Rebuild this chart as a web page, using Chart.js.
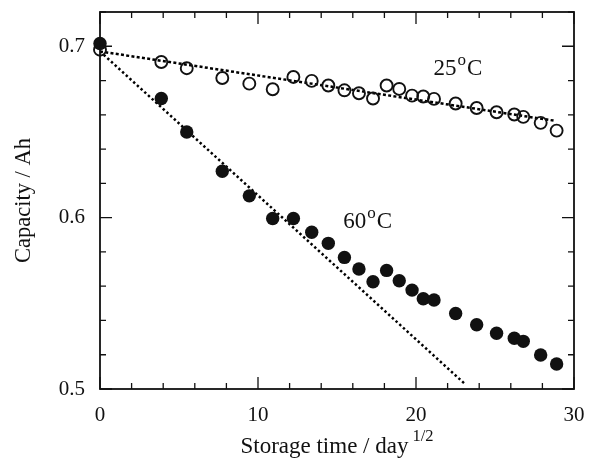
<!DOCTYPE html>
<html>
<head>
<meta charset="utf-8">
<script src="https://cdn.jsdelivr.net/npm/chart.js@4.4.1/dist/chart.umd.min.js"></script>
<style>
  html, body { margin: 0; padding: 0; background: #fff; }
</style>
</head>
<body>
<canvas id="grafico" width="597" height="460"></canvas>
<script>
// valores
const tempo = [0, 3.88, 5.49, 7.74, 9.45, 10.93, 12.24, 13.4, 14.45, 15.47, 16.39, 17.28,
    18.14, 18.94, 19.75, 20.46, 21.14, 22.51, 23.84, 25.1, 26.22, 26.79, 27.89, 28.9];
const cap25 = [0.698, 0.6908, 0.6872, 0.6815, 0.6782, 0.6749, 0.6821, 0.6798, 0.6771, 0.6743,
    0.6726, 0.6695, 0.6771, 0.6751, 0.6712, 0.6707, 0.6693, 0.6666, 0.664, 0.6615, 0.6602,
    0.6588, 0.6553, 0.6508];
const cap60 = [0.7016, 0.6695, 0.65, 0.6271, 0.6127, 0.5995, 0.5995, 0.5915, 0.585, 0.5768,
    0.57, 0.5626, 0.5692, 0.5632, 0.5577, 0.5527, 0.5519, 0.5441, 0.5375, 0.5325, 0.5296,
    0.5278, 0.5198, 0.5146];

// retas de ajuste (extremos)
const ajuste25X = [0, 28.8];
const ajuste25Y = [0.697, 0.6565];
const ajuste60X = [0, 23.15];
const ajuste60Y = [0.697, 0.5025];

const rotulos = [
    { texto: "25", sup: "o", fim: "C", x: 21.1, y: 0.6831 },
    { texto: "60", sup: "o", fim: "C", x: 15.4, y: 0.5939 }
];

const fonte = "'Liberation Serif', 'DejaVu Serif', serif";

function pares(xs, ys) {
    return xs.map((x, i) => ({ x: x, y: ys[i] }));
}

/* =========================
   MOLDURA, TICKS E TEXTOS
========================= */
const moldura = {
    id: "moldura",
    afterDatasetsDraw(chart) {
        const ctx = chart.ctx;
        const a = chart.chartArea;
        const sx = chart.scales.x;
        const sy = chart.scales.y;
        ctx.save();
        ctx.strokeStyle = "#111";
        ctx.lineWidth = 1.8;
        ctx.strokeRect(a.left, a.top, a.right - a.left, a.bottom - a.top);

        ctx.lineWidth = 1.3;
        ctx.beginPath();
        sx.ticks.forEach(t => {
            const px = sx.getPixelForValue(t.value);
            const len = Math.abs(t.value % 10) < 1e-6 ? 12 : 6;
            ctx.moveTo(px, a.bottom); ctx.lineTo(px, a.bottom - len);
            ctx.moveTo(px, a.top); ctx.lineTo(px, a.top + len);
        });
        sy.ticks.forEach(t => {
            const py = sy.getPixelForValue(t.value);
            const v = t.value * 10;
            const len = Math.abs(v - Math.round(v)) < 1e-6 ? 12 : 6;
            ctx.moveTo(a.left, py); ctx.lineTo(a.left + len, py);
            ctx.moveTo(a.right, py); ctx.lineTo(a.right - len, py);
        });
        ctx.stroke();

        // rótulos de temperatura
        ctx.fillStyle = "#111";
        ctx.textBaseline = "alphabetic";
        rotulos.forEach(r => {
            let px = sx.getPixelForValue(r.x);
            const py = sy.getPixelForValue(r.y);
            ctx.font = "23px " + fonte;
            ctx.fillText(r.texto, px, py);
            px += ctx.measureText(r.texto).width + 1;
            ctx.font = "17px " + fonte;
            ctx.fillText(r.sup, px, py - 10);
            px += ctx.measureText(r.sup).width + 1;
            ctx.font = "23px " + fonte;
            ctx.fillText(r.fim, px, py);
        });

        // título do eixo x com expoente
        const t1 = "Storage time / day";
        const t2 = "1/2";
        ctx.font = "23px " + fonte;
        const w1 = ctx.measureText(t1).width;
        ctx.font = "16.5px " + fonte;
        const w2 = ctx.measureText(t2).width;
        const cx = (a.left + a.right) / 2;
        const x0 = cx - (w1 + w2 + 4) / 2;
        const base = 453;
        ctx.font = "23px " + fonte;
        ctx.fillText(t1, x0, base);
        ctx.font = "16.5px " + fonte;
        ctx.fillText(t2, x0 + w1 + 4, base - 12);
        ctx.restore();
    }
};

const ctxGrafico = document.getElementById("grafico");

new Chart(ctxGrafico, {
    type: "scatter",
    data: {
        datasets: [
            {
                label: "60",
                data: pares(tempo, cap60),
                pointStyle: "circle",
                pointRadius: 6.7,
                pointBackgroundColor: "#111",
                pointBorderColor: "#111",
                pointBorderWidth: 0,
                clip: false,
                order: 1
            },
            {
                label: "25",
                data: pares(tempo, cap25),
                pointStyle: "circle",
                pointRadius: 6,
                pointBackgroundColor: "rgba(255,255,255,0)",
                pointBorderColor: "#111",
                pointBorderWidth: 1.9,
                clip: false,
                order: 2
            },
            {
                label: "ajuste25",
                data: pares(ajuste25X, ajuste25Y),
                showLine: true,
                borderColor: "#000",
                borderWidth: 2.5,
                borderDash: [3, 2.3],
                pointRadius: 0,
                order: 3
            },
            {
                label: "ajuste60",
                data: pares(ajuste60X, ajuste60Y),
                showLine: true,
                borderColor: "#000",
                borderWidth: 2.5,
                borderDash: [2.4, 2.6],
                pointRadius: 0,
                order: 3
            }
        ]
    },
    options: {
        responsive: false,
        animation: false,
        layout: { padding: { top: 12, right: 23, left: 0, bottom: 0 } },
        plugins: {
            legend: { display: false },
            tooltip: { enabled: false }
        },
        scales: {
            x: {
                min: 0,
                max: 30,
                grid: { display: false },
                border: { display: false },
                ticks: {
                    stepSize: 2,
                    autoSkip: false,
                    maxRotation: 0,
                    color: "#111",
                    padding: 6,
                    font: { family: fonte, size: 21 },
                    callback: v => (Math.abs(v % 10) < 1e-6 ? String(v) : "")
                },
                afterFit: s => { s.height = 71; s.paddingLeft = 0; s.paddingRight = 0; }
            },
            y: {
                min: 0.5,
                max: 0.72,
                grid: { display: false },
                border: { display: false },
                ticks: {
                    stepSize: 0.02,
                    autoSkip: false,
                    color: "#111",
                    padding: 7,
                    font: { family: fonte, size: 21 },
                    callback: v => {
                        const d = v * 10;
                        return Math.abs(d - Math.round(d)) < 1e-6 ? v.toFixed(1) : "";
                    }
                },
                title: {
                    display: true,
                    text: "Capacity / Ah",
                    color: "#111",
                    padding: { top: 11, bottom: 0 },
                    font: { family: fonte, size: 22.5 }
                },
                afterFit: s => { s.width = 100; s.paddingTop = 0; s.paddingBottom = 0; }
            }
        }
    },
    plugins: [moldura]
});
</script>
</body>
</html>
